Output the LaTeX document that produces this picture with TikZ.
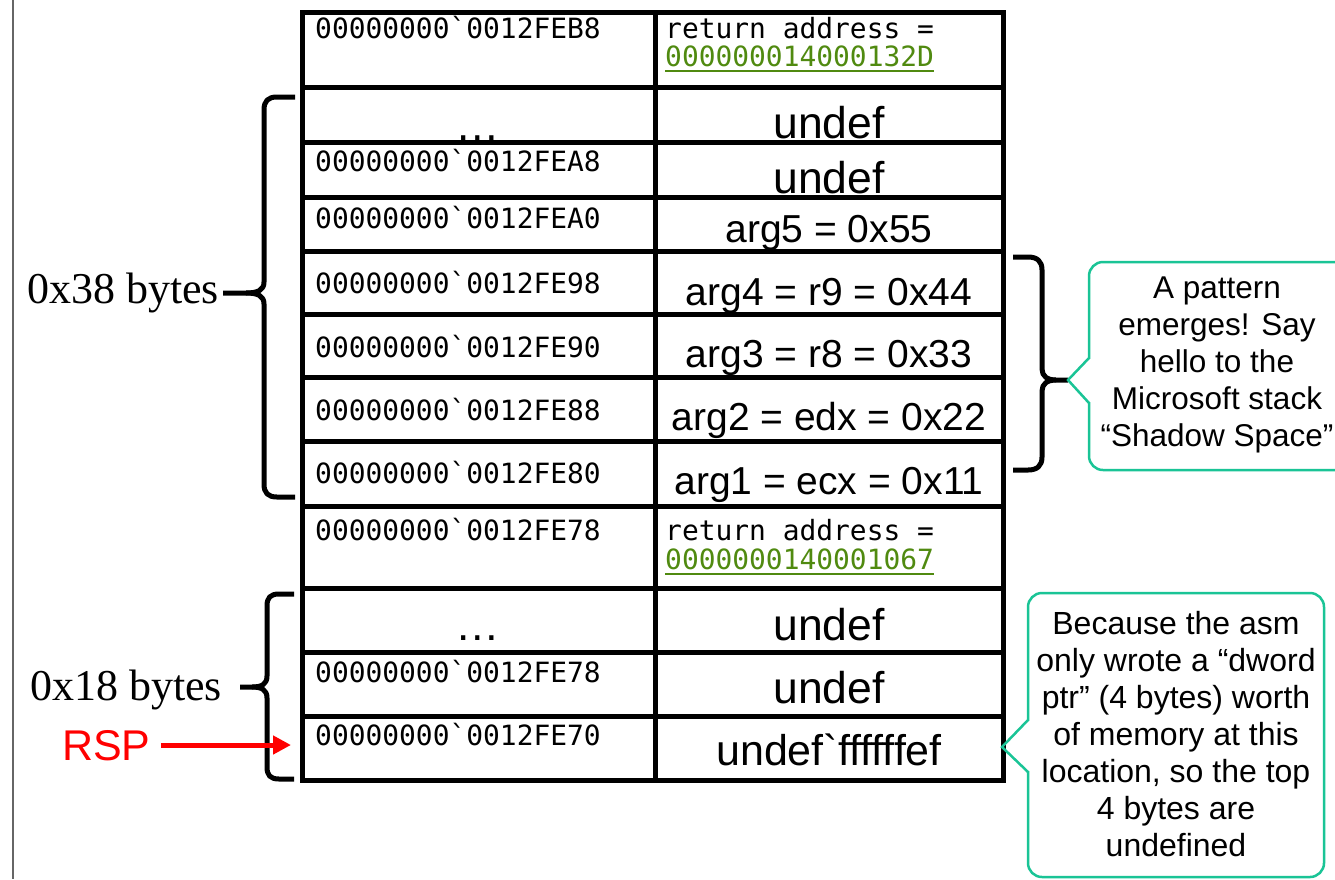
\documentclass[tikz,border=0pt]{standalone}
\usepackage{fontspec}
\setmainfont{Liberation Sans}
\newfontfamily\monof{DejaVu Sans Mono}
\newfontfamily\sansf{Liberation Sans}
\newfontfamily\seriff{Liberation Serif}
\usetikzlibrary{arrows.meta}
\definecolor{linkgreen}{RGB}{80,138,16}
\definecolor{calloutc}{RGB}{26,196,150}
\definecolor{rspred}{RGB}{255,0,0}
\begin{document}
\begin{tikzpicture}[x=1pt,y=-1pt,
  addr/.style={anchor=base west, inner sep=0, font=\monof\fontsize{27.9}{30}\selectfont},
  val/.style={anchor=base, inner sep=0, font=\sansf\fontsize{39}{44}\selectfont},
  bigval/.style={anchor=base, inner sep=0, font=\sansf\fontsize{44.5}{50}\selectfont},
  gridline/.style={line width=5pt, black},
  brace/.style={line width=5pt, black, line cap=butt, line join=round},
  note/.style={align=center, inner sep=0, font=\sansf\fontsize{32}{37}\selectfont},
  bubble/.style={draw=calloutc, line width=2.5pt, fill=white},
  side/.style={anchor=base west, inner sep=0, font=\seriff\fontsize{44}{50}\selectfont},
  ulink/.style={linkgreen, line width=2pt},
]
\useasboundingbox (0,0) rectangle (1335,879);
\clip (0,0) rectangle (1335,879);
\draw[gray!80!black, line width=1.5pt] (13,0) -- (13,879);

% ---- table texts ----
\node[addr] (a1) at (315,38) {00000000`0012FEB8};
\node[addr] (v1a) at (665,38) {return address =};
\node[addr, text=linkgreen] (v1b) at (665,66) {000000014000132D};
\draw[ulink] ([yshift=-4pt]v1b.south west) -- ([yshift=-4pt]v1b.south east);

\node[bigval] (a2) at (478,140) {…};
\node[bigval] (v2) at (829,138) {undef};

\node[addr] (a3) at (315,171) {00000000`0012FEA8};
\node[bigval] (v3) at (829,193) {undef};

\node[addr] (a4) at (315,228) {00000000`0012FEA0};
\node[val] (v4) at (829,242) {arg5 = 0x55};

\node[addr] (a5) at (315,293) {00000000`0012FE98};
\node[val] (v5) at (829,305) {arg4 = r9 = 0x44};

\node[addr] (a6) at (315,357) {00000000`0012FE90};
\node[val] (v6) at (829,367) {arg3 = r8 = 0x33};

\node[addr] (a7) at (315,420) {00000000`0012FE88};
\node[val] (v7) at (829,430) {arg2 = edx = 0x22};

\node[addr] (a8) at (315,483) {00000000`0012FE80};
\node[val] (v8) at (829,494) {arg1 = ecx = 0x11};

\node[addr] (a9) at (315,540) {00000000`0012FE78};
\node[addr] (v9a) at (665,540) {return address =};
\node[addr, text=linkgreen] (v9b) at (665,569) {0000000140001067};
\draw[ulink] ([yshift=-4pt]v9b.south west) -- ([yshift=-4pt]v9b.south east);

\node[bigval] (a10) at (478,640) {…};
\node[bigval] (v10) at (829,640) {undef};

\node[addr] (a11) at (315,682) {00000000`0012FE78};
\node[bigval] (v11) at (829,703) {undef};

\node[addr] (a12) at (315,745) {00000000`0012FE70};
\node[bigval, font=\sansf\fontsize{43}{48}\selectfont] (v12) at (829,765) {undef`ffffffef};

% ---- table grid ----
\draw[gridline] (302,12) rectangle (1003,780);
\draw[gridline] (655,12) -- (655,780);
\foreach \yy in {87,142,197,251,314,377,441,506,588,652,716}
  \draw[gridline] (302,\yy) -- (1003,\yy);

% ---- braces ----
\draw[brace] (295,97) -- (277,97) .. controls (268,97) and (264,101) .. (264,110)
  -- (264,282) .. controls (264,290) and (258,293) .. (246,293) -- (223,293);
\draw[brace] (246,293) .. controls (258,293) and (264,296) .. (264,304)
  -- (264,484) .. controls (264,493) and (268,497) .. (277,497) -- (295,497);

\draw[brace] (294,594) -- (279,594) .. controls (270,594) and (267,598) .. (267,606)
  -- (267,676) .. controls (267,684) and (262,687) .. (252,687) -- (240,687);
\draw[brace] (252,687) .. controls (262,687) and (267,690) .. (267,698)
  -- (267,767) .. controls (267,775) and (270,779) .. (279,779) -- (294,779);

\draw[brace] (1013,257) -- (1028,257) .. controls (1037,257) and (1042,261) .. (1042,270)
  -- (1042,369) .. controls (1042,376) and (1047,380) .. (1056,380) -- (1068,380);
\draw[brace] (1056,380) .. controls (1047,380) and (1042,384) .. (1042,391)
  -- (1042,457) .. controls (1042,466) and (1037,470) .. (1028,470) -- (1013,470);

% ---- left labels ----
\node[side] (l38) at (27,303) {0x38 bytes};
\node[side] (l18) at (30,700) {0x18 bytes};
\node[anchor=base west, inner sep=0, font=\sansf\fontsize{43}{48}\selectfont, text=rspred] (rsp) at (62,760) {RSP};
\coordinate (rsptip) at (291,745);
\draw[rspred, line width=5pt, -{Triangle[length=18pt,width=18pt]}]
  ([xshift=10pt]rsp.east |- rsptip) -- (rsptip);

% ---- callouts ----
\draw[bubble, rounded corners=14pt] (1089,262) rectangle (1370,470);
\fill[white] (1086,359) rectangle (1092,402);
\draw[calloutc, line width=2.5pt] (1089,358) -- (1068,380) -- (1089,403);
\node[note, font=\sansf\fontsize{31.5}{37}\selectfont] (n1) at (1217,365) {A pattern\\emerges! Say\\hello to the\\Microsoft stack\\“Shadow Space”};

\draw[bubble, rounded corners=14pt] (1028,593) rectangle (1324,877);
\fill[white] (1025,721) rectangle (1031,771);
\draw[calloutc, line width=2.5pt] (1028,720) -- (1002,747) -- (1028,772);
\node[note] (n2) at (1176,734) {Because the asm\\only wrote a “dword\\ptr” (4 bytes) worth\\of memory at this\\location, so the top\\4 bytes are\\undefined};
\end{tikzpicture}
\end{document}
